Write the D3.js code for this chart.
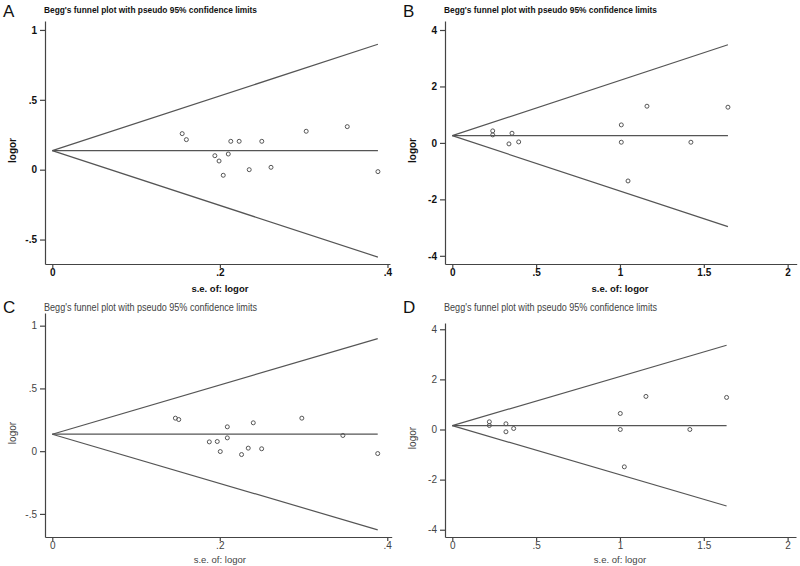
<!DOCTYPE html>
<html><head><meta charset="utf-8">
<script src="https://cdn.jsdelivr.net/npm/d3@7"></script>
<style>body{margin:0;background:#fff}svg{display:block}</style>
</head><body>
<svg id="chart" width="800" height="566"></svg>
<script>
// ---- Data ----
const seA    = [0.155,0.160,0.194,0.199,0.204,0.210,0.213,0.223,0.235,0.250,0.261,0.303,0.352,0.3886];
const logorA = [0.258,0.215,0.100,0.062,-0.040,0.112,0.203,0.203,0.000,0.203,0.017,0.275,0.308,-0.014];
const pooledA = 0.136;

const seB    = [0.241,0.241,0.356,0.338,0.396,1.008,1.008,1.048,1.161,1.423,1.644];
const logorB = [0.426,0.284,0.343,-0.035,0.035,0.638,0.024,-1.348,1.300,0.024,1.265];
const pooledB = 0.257;

const seC    = [0.147,0.151,0.1875,0.197,0.2006,0.209,0.209,0.226,0.234,0.240,0.250,0.298,0.347,0.3886];
const logorC = [0.263,0.252,0.074,0.077,-0.003,0.194,0.106,-0.027,0.024,0.226,0.019,0.263,0.125,-0.019];
const pooledC = 0.135;

const seD    = [0.221,0.221,0.320,0.320,0.366,1.002,1.002,1.026,1.155,1.417,1.636];
const logorD = [0.307,0.160,0.228,-0.092,0.040,0.640,0.000,-1.490,1.320,0.000,1.280];
const pooledD = 0.155;

const xTicksSmall = [0, 0.2, 0.4];
const xTickLabelsSmall = ["0", ".2", ".4"];
const yTicksSmall = [-0.5, 0, 0.5, 1];
const yTickLabelsSmall = ["-.5", "0", ".5", "1"];
const xTicksLarge = [0, 0.5, 1, 1.5, 2];
const xTickLabelsLarge = ["0", ".5", "1", "1.5", "2"];
const yTicksLarge = [-4, -2, 0, 2, 4];
const yTickLabelsLarge = ["-4", "-2", "0", "2", "4"];

const titleText = "Begg's funnel plot with pseudo 95% confidence limits";
const xLabelText = "s.e. of: logor";
const yLabelText = "logor";
const panelLetters = ["A", "B", "C", "D"];

// ---- Panel layout ----
const panels = [
  {letter:panelLetters[0], se:seA, y:logorA, pooled:pooledA, bold:true,
   xDom:[-0.0087,0.403], xR:[45,390], yDom:[-0.675,1.064], yR:[264,21],
   xt:xTicksSmall, xtl:xTickLabelsSmall, yt:yTicksSmall, ytl:yTickLabelsSmall,
   letterY:17, titleY:13, xLabY:292, yLabX:16},
  {letter:panelLetters[1], se:seB, y:logorB, pooled:pooledB, bold:true,
   xDom:[-0.0435,2.054], xR:[445,796.7], yDom:[-4.29,4.319], yR:[264,21],
   xt:xTicksLarge, xtl:xTickLabelsLarge, yt:yTicksLarge, ytl:yTickLabelsLarge,
   letterY:17, titleY:13, xLabY:292, yLabX:416},
  {letter:panelLetters[2], se:seC, y:logorC, pooled:pooledC, bold:false,
   xDom:[-0.0087,0.4053], xR:[45,391.7], yDom:[-0.684,1.101], yR:[537,313],
   xt:xTicksSmall, xtl:xTickLabelsSmall, yt:yTicksSmall, ytl:yTickLabelsSmall,
   letterY:313, titleY:311, xLabY:563, yLabX:16},
  {letter:panelLetters[3], se:seD, y:logorD, pooled:pooledD, bold:false,
   xDom:[-0.0435,2.05], xR:[445,796], yDom:[-4.29,4.25], yR:[537,323],
   xt:xTicksLarge, xtl:xTickLabelsLarge, yt:yTicksLarge, ytl:yTickLabelsLarge,
   letterY:313, titleY:311, xLabY:563, yLabX:416}
];

const svg = d3.select("#chart");
const FONT = "'Liberation Sans', Arial, sans-serif";

panels.forEach(p => {
  const g = svg.append("g");
  const x = d3.scaleLinear().domain(p.xDom).range(p.xR);
  const y = d3.scaleLinear().domain(p.yDom).range(p.yR);
  const txtCol = p.bold ? "#111" : "#444";
  const axCol = "#444";
  const weight = p.bold ? "bold" : "normal";

  // panel letter
  g.append("text").attr("x", p.xR[0] - 42).attr("y", p.letterY)
    .attr("font-family", FONT).attr("font-size", 17).attr("fill", "#111")
    .text(p.letter);
  // title
  g.append("text").attr("x", p.xR[0] - 1).attr("y", p.titleY)
    .attr("font-family", FONT).attr("font-size", p.bold ? 9.5 : 10)
    .attr("font-weight", weight).attr("fill", txtCol)
    .attr("textLength", 213).attr("lengthAdjust", "spacingAndGlyphs")
    .text(titleText);

  // axes
  const yAxis = d3.axisLeft(y).tickValues(p.yt)
    .tickFormat((d, i) => p.ytl[i]).tickSizeInner(5).tickSizeOuter(0).tickPadding(3);
  const xAxis = d3.axisBottom(x).tickValues(p.xt)
    .tickFormat((d, i) => p.xtl[i]).tickSizeInner(4).tickSizeOuter(0).tickPadding(1);
  const ya = g.append("g").attr("transform", `translate(${p.xR[0]},0)`).call(yAxis);
  const xa = g.append("g").attr("transform", `translate(0,${p.yR[0]})`).call(xAxis);
  [ya, xa].forEach(a => {
    a.selectAll("path,line").attr("stroke", axCol).attr("stroke-width", 1.2);
    a.selectAll("text").attr("font-family", FONT).attr("font-size", 10)
      .attr("font-weight", weight).attr("fill", txtCol);
  });

  // axis titles
  g.append("text").attr("x", (x(p.xt[0]) + x(p.xt[p.xt.length-1])) / 2).attr("y", p.xLabY)
    .attr("text-anchor", "middle").attr("font-family", FONT).attr("font-size", 9.5)
    .attr("font-weight", weight).attr("fill", txtCol).text(xLabelText);
  g.append("text")
    .attr("transform", `translate(${p.yLabX},${(p.yR[0] + p.yR[1]) / 2 + 8}) rotate(-90)`)
    .attr("text-anchor", "middle").attr("font-family", FONT).attr("font-size", 10)
    .attr("font-weight", weight).attr("fill", txtCol).text(yLabelText);

  // funnel: pooled estimate and pseudo 95% limits
  const maxSE = d3.max(p.se);
  const lineCol = "#555";
  const seg = [[0, p.pooled, maxSE, p.pooled],
               [0, p.pooled, maxSE, p.pooled + 1.96 * maxSE],
               [0, p.pooled, maxSE, p.pooled - 1.96 * maxSE]];
  g.selectAll("line.funnel").data(seg).enter().append("line")
    .attr("class", "funnel")
    .attr("x1", d => x(d[0])).attr("y1", d => y(d[1]))
    .attr("x2", d => x(d[2])).attr("y2", d => y(d[3]))
    .attr("stroke", lineCol).attr("stroke-width", 1.2);

  // study points
  g.selectAll("circle").data(p.se.map((s, i) => [s, p.y[i]])).enter().append("circle")
    .attr("cx", d => x(d[0])).attr("cy", d => y(d[1])).attr("r", 2)
    .attr("fill", "none").attr("stroke", "#555").attr("stroke-width", 1);
});
</script>
</body></html>
